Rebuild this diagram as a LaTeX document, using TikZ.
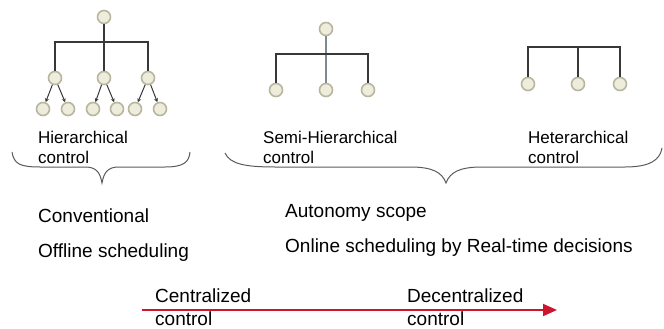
\documentclass[tikz,border=0pt]{standalone}
\usepackage{fontspec}
\setmainfont{Liberation Sans}
\usetikzlibrary{arrows.meta}
\definecolor{nodefill}{RGB}{238,236,218}
\definecolor{nodeedge}{RGB}{185,182,160}
\definecolor{linegray}{RGB}{55,57,57}
\definecolor{midgray}{RGB}{125,138,142}
\definecolor{bracegray}{RGB}{90,90,90}
\definecolor{arrowred}{RGB}{205,22,45}
\begin{document}
\begin{tikzpicture}[x=1pt,y=-1pt,
  tnode/.style={circle,draw=nodeedge,line width=1.6pt,fill=nodefill,minimum size=13pt,inner sep=0pt},
  tline/.style={draw=linegray,line width=1.3pt},
  lbl/.style={anchor=base west,inner sep=0pt,font=\fontsize{17}{20}\selectfont},
  txt/.style={anchor=base west,inner sep=0pt,font=\fontsize{19}{22}\selectfont},
  bracestyle/.style={draw=bracegray,line width=1pt}]
\useasboundingbox (0,0) rectangle (664,329);
% Hierarchical tree
\node[tnode] (h0) at (104,17) {};
\node[tnode] (h1) at (55,78) {};
\node[tnode] (h2) at (104,78) {};
\node[tnode] (h3) at (148,78) {};
\node[tnode] (l1) at (43,109) {};
\node[tnode] (l2) at (68,109) {};
\node[tnode] (l3) at (93,109) {};
\node[tnode] (l4) at (117,109) {};
\node[tnode] (l5) at (135,109) {};
\node[tnode] (l6) at (160,109) {};
\coordinate (hb) at (104,42);
\draw[tline] (h0) -- (hb);
\draw[tline] (h1) |- (hb) -| (h3);
\draw[tline] (hb) -- (h2);
\foreach \a/\b in {h1/l1,h1/l2,h2/l3,h2/l4,h3/l5,h3/l6}
  \draw[tline,line width=1pt,-{Stealth[length=4pt,width=4pt]}] (\a) -- (\b);
% Semi-hierarchical tree
\node[tnode] (s0) at (326,29) {};
\node[tnode] (s1) at (276,90) {};
\node[tnode] (s2) at (326,90) {};
\node[tnode] (s3) at (368,90) {};
\coordinate (sb) at (326,54);
\draw[tline,draw=midgray] (s0) -- (sb) -- (s2);
\draw[tline] (s1) |- (sb) -| (s3);
% Heterarchical
\node[tnode] (e1) at (528,84) {};
\node[tnode] (e2) at (578,84) {};
\node[tnode] (e3) at (620,84) {};
\coordinate (eb) at (578,47);
\draw[tline] (e1) |- (eb) -| (e3);
\draw[tline] (eb) -- (e2);
% labels
\node[lbl] (t1) at (38,143) {Hierarchical};
\node[lbl] (t2) at (38,163) {control};
\node[lbl] (t3) at (263,143) {Semi-Hierarchical};
\node[lbl] (t4) at (263,163) {control};
\node[lbl] (t5) at (528,143) {Heterarchical};
\node[lbl] (t6) at (528,163) {control};
% braces
\draw[bracestyle] (12,152) .. controls (14,164) and (20,167) .. (40,167) -- (85,167)
  .. controls (96,167) and (100,172) .. (102,183)
  .. controls (104,172) and (108,167) .. (119,167) -- (165,167)
  .. controls (184,167) and (189,162) .. (190,152);
\draw[bracestyle] (225,153) .. controls (230,164) and (245,167) .. (275,167) -- (410,167)
  .. controls (432,167) and (442,172) .. (446,183)
  .. controls (450,172) and (460,167) .. (482,167) -- (625,167)
  .. controls (650,167) and (660,160) .. (662,148);
% bottom texts
\node[txt] (c1) at (38,222) {Conventional};
\node[txt] (c2) at (38,257) {Offline scheduling};
\node[txt] (c3) at (285,217) {Autonomy scope};
\node[txt] (c4) at (285,252) {Online scheduling by Real-time decisions};
% arrow
\coordinate (a0) at (142,310);
\coordinate (a1) at (557,310);
\draw[arrowred,line width=2pt,-{Triangle[length=14pt,width=12pt]}] (a0) -- (a1);
\node[txt] (d1) at (155,302) {Centralized};
\node[txt] (d2) at (155,325) {control};
\node[txt] (d3) at (407,302) {Decentralized};
\node[txt] (d4) at (407,325) {control};
\end{tikzpicture}
\end{document}
